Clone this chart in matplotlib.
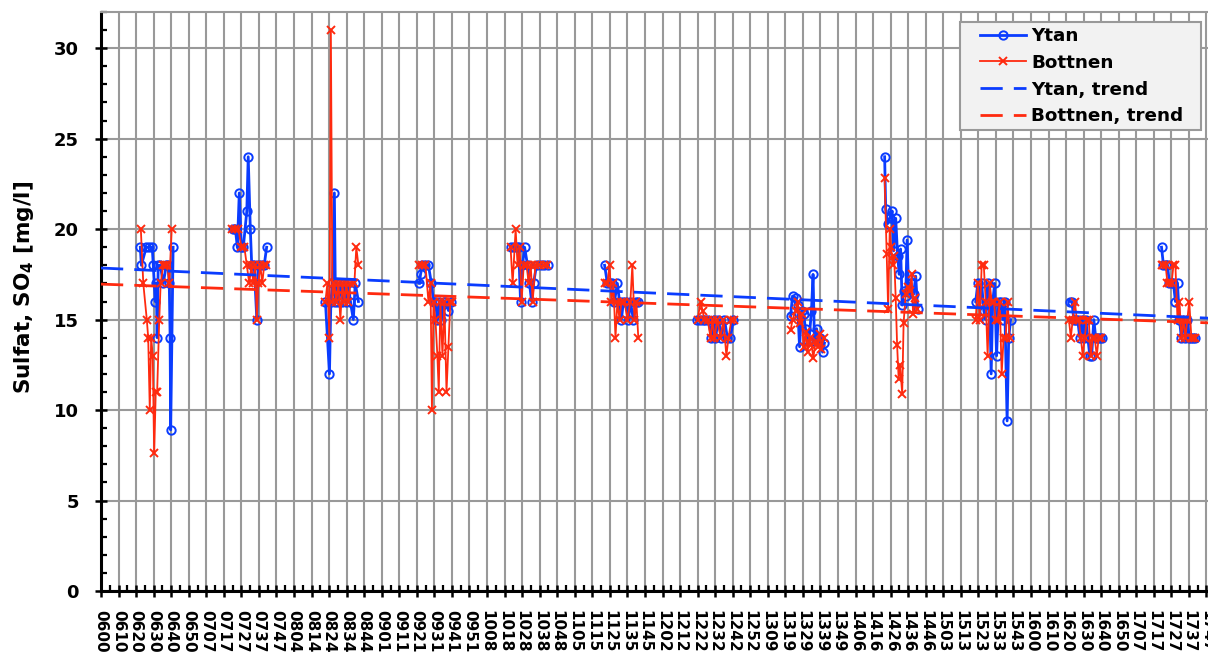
import numpy as np
import matplotlib
matplotlib.use("Agg")
import matplotlib.pyplot as plt
from matplotlib.patches import Rectangle
from matplotlib.ticker import MultipleLocator

# week labels along the x axis (one every 10 weeks)
week_labels = ["0600", "0610", "0620", "0630", "0640", "0650", "0707", "0717", "0727", "0737", "0747",
               "0804", "0814", "0824", "0834", "0844", "0901", "0911", "0921", "0931", "0941", "0951",
               "1008", "1018", "1028", "1038", "1048", "1105", "1115", "1125", "1135", "1145",
               "1202", "1212", "1222", "1232", "1242", "1252", "1309", "1319", "1329", "1339", "1349",
               "1406", "1416", "1426", "1436", "1446", "1503", "1513", "1523", "1533", "1543",
               "1600", "1610", "1620", "1630", "1640", "1650", "1707", "1717", "1727", "1737", "1747"]

# sampling campaigns, x in weeks counted from 0600
ytan_week = [
    [22.4, 23.0, 25.8, 27.5, 29.2, 29.8, 30.9, 31.5, 32.0, 32.6, 33.8, 35.5, 37.2, 38.3, 38.9, 39.4, 39.7, 41.1],
    [75.4, 76.6, 77.7, 78.8, 80.0, 81.1, 83.1, 83.9, 85.1, 85.9, 87.3, 88.8, 89.6, 91.3, 93.0, 94.4],
    [127.9, 130.2, 131.0, 131.9, 133.0, 133.6, 134.1, 135.3, 136.4, 137.6, 138.7, 139.8, 141.0, 142.1, 143.8, 144.9, 146.7],
    [181.5, 182.1, 183.2, 184.9, 186.6, 188.3, 189.5, 190.6, 191.7, 192.9, 194.0, 195.2, 196.3, 198.0, 199.7],
    [233.4, 235.1, 236.8, 238.0, 239.1, 240.2, 241.4, 243.1, 244.2, 245.4, 246.5, 248.2, 250.5, 252.7, 255.0],
    [287.0, 288.6, 289.8, 291.5, 292.6, 294.3, 295.5, 296.6, 297.7, 299.4, 300.6, 301.7, 303.4, 305.1, 306.2],
    [339.4, 341.1, 342.8, 344.5, 346.2, 347.9, 349.1, 350.2, 351.9, 353.6, 355.3, 357.0, 358.7, 360.4],
    [393.0, 394.1, 395.9, 397.0, 398.1, 399.3, 400.4, 401.5, 402.7, 403.8, 404.9, 405.8, 406.6, 407.8, 408.9, 410.0, 411.2, 412.3],
    [446.6, 447.2, 448.3, 449.5, 450.9, 451.7, 452.9, 454.0, 454.9, 455.7, 456.6, 457.4, 458.6, 459.4, 460.3, 461.4, 463.1, 464.3, 465.4],
    [498.5, 499.7, 500.8, 501.9, 503.1, 504.2, 505.3, 506.5, 507.3, 508.2, 509.3, 510.4, 511.6, 512.7, 513.9, 515.0, 516.4, 517.3, 518.4],
    [552.1, 553.3, 554.4, 555.5, 556.6, 557.8, 559.0, 560.1, 561.2, 562.4, 563.5, 564.6, 565.8, 566.9, 568.0, 569.2, 570.3],
    [604.4, 605.5, 606.7, 607.8, 608.9, 610.1, 611.2, 612.3, 613.5, 614.6, 615.7, 616.9, 618.0, 619.1, 620.2, 621.4, 622.5, 623.6],
]
ytan_so4 = [
    [19, 18, 19, 19, 19, 18, 16, 17, 14, 18, 18, 17, 18, 18, 17, 14, 8.9, 19],
    [20, 20, 19, 22, 19, 19, 21, 24, 20, 18, 18, 15, 18, 18, 18, 19],
    [16, 12, 16, 17, 22, 16, 17, 16, 17, 16, 17, 16, 17, 16, 15, 17, 16],
    [17, 17.5, 18, 18, 18, 17, 16, 16, 15, 16, 15, 16, 16, 15.5, 16],
    [19, 19, 19, 19, 16, 18, 19, 18, 17, 16, 17, 18, 18, 18, 18],
    [18, 17, 17, 17, 16, 17, 16, 15, 16, 16, 15, 16, 15, 16, 16],
    [15, 15, 15, 15, 15, 14, 15, 14, 15, 14, 15, 14, 14, 15],
    [15.2, 16.3, 16.2, 15.8, 13.5, 15.5, 15.3, 14.5, 13.8, 14.2, 15.5, 17.5, 13.8, 14.5, 13.8, 14.0, 13.2, 13.7],
    [24.0, 21.1, 20.3, 20.6, 21.0, 18.8, 20.6, 18.5, 17.5, 18.9, 15.8, 16.6, 16.3, 19.4, 16.5, 17.0, 16.4, 17.4, 15.6],
    [16, 17, 16, 17, 15.5, 15, 17, 16, 12, 16, 17, 13, 16, 16, 15, 16, 9.4, 14, 15],
    [16, 16, 15, 15, 15, 14, 15, 14, 15, 14, 13, 13, 15, 14, 14, 14, 14],
    [19, 18, 18, 18, 17, 17, 17, 16, 17, 15, 14, 15, 14, 15, 14, 14, 14, 14],
]

bott_week = [
    [22.7, 24.1, 26.1, 26.9, 27.8, 28.6, 29.5, 30.3, 31.2, 32.0, 33.2, 34.0, 35.5, 36.6, 37.7, 38.9, 40.3],
    [74.9, 76.6, 78.3, 80.0, 81.7, 83.1, 84.5, 85.7, 86.8, 87.9, 88.8, 89.6, 90.8, 91.9, 93.0, 94.2],
    [127.9, 129.0, 130.2, 131.0, 131.9, 133.0, 134.1, 135.3, 136.4, 137.6, 138.7, 139.8, 141.0, 142.1, 144.4, 145.5, 146.7],
    [181.5, 183.2, 184.9, 186.6, 187.8, 188.6, 189.5, 190.6, 191.7, 192.5, 193.4, 194.6, 195.7, 196.9, 198.0, 199.1, 200.3],
    [233.4, 234.6, 236.3, 237.4, 238.6, 239.7, 240.9, 242.6, 243.7, 244.9, 246.0, 247.6, 249.9, 252.2, 254.4],
    [287.0, 288.6, 289.8, 290.9, 292.0, 293.2, 294.3, 295.5, 296.6, 298.3, 300.0, 301.7, 302.8, 304.0, 305.1, 306.2],
    [340.0, 341.7, 342.8, 343.9, 345.7, 347.4, 348.5, 349.6, 351.3, 353.0, 354.7, 356.4, 357.6, 359.3, 361.0],
    [393.0, 394.1, 395.9, 397.0, 398.1, 399.3, 400.4, 401.5, 402.7, 403.8, 404.9, 406.0, 407.2, 408.4, 409.5, 410.6, 411.8],
    [446.6, 447.8, 448.6, 449.5, 450.3, 451.2, 452.0, 452.9, 453.7, 454.6, 455.4, 456.6, 457.4, 458.6, 459.7, 460.8, 462.0, 462.8, 463.9, 465.1],
    [498.5, 499.7, 500.8, 501.9, 503.1, 504.2, 505.3, 506.5, 507.6, 508.8, 509.9, 511.0, 512.2, 513.3, 514.4, 515.6, 516.7, 517.8],
    [551.6, 552.7, 553.8, 555.0, 556.1, 557.2, 558.4, 559.5, 560.6, 561.8, 562.9, 564.1, 565.2, 566.3, 567.5, 568.6, 569.7],
    [604.4, 605.5, 606.7, 607.8, 608.9, 610.1, 611.2, 612.3, 613.5, 614.6, 615.7, 616.9, 618.0, 619.1, 620.2, 621.4, 622.5, 623.6],
]
bott_so4 = [
    [20, 17, 15, 14, 10, 14, 13, 7.6, 11, 11, 15, 17, 18, 18, 18, 17, 20],
    [20, 20, 20, 19, 19, 18, 17, 18, 17, 18, 15, 17, 18, 17, 18, 18],
    [16, 17, 14, 31, 16, 17, 16, 17, 15, 17, 16, 17, 16, 17, 17, 19, 18],
    [18, 18, 18, 16, 17, 10, 16, 15, 13, 11, 16, 13, 16, 11, 13.5, 16, 16],
    [19, 17, 20, 18, 19, 16, 18, 18, 17, 18, 16, 18, 18, 18, 18],
    [17, 17, 18, 16, 17, 14, 16, 15, 16, 16, 15, 16, 18, 15, 16, 14],
    [15, 16, 15.5, 15, 15, 14, 15, 14, 15, 14, 15, 13, 14, 15, 15],
    [14.4, 15.0, 15.5, 16.0, 14.8, 15.3, 13.5, 14.3, 13.2, 14.0, 13.6, 12.9, 13.8, 13.5, 14.2, 13.4, 14.0],
    [22.8, 18.6, 15.6, 20.0, 19.0, 18.0, 18.5, 16.2, 13.6, 11.7, 12.5, 10.9, 14.8, 16.4, 16.8, 16.6, 17.5, 15.3, 16.2, 15.6],
    [15, 17, 15, 18, 18, 16, 13, 17, 16, 16, 15, 15, 16, 12, 14, 14, 16, 14],
    [15, 14, 15, 16, 15, 15, 14, 13, 14, 15, 15, 13, 14, 14, 13, 14, 14],
    [18, 18, 18, 17, 17, 17, 18, 18, 15, 16, 14, 15, 14, 15, 16, 14, 14, 14],
]

# linear trends (value at start and end of the axis)
trend_week = [0, 640]
ytan_trend = [17.85, 15.04]
bott_trend = [16.96, 14.79]

BLUE = "#0a3cff"
RED = "#ff2a0f"


def join(groups):
    out = []
    for g in groups:
        out.extend(g)
        out.append(np.nan)
    return np.array(out[:-1], dtype=float)


def main():
    fig = plt.figure(figsize=(12.08, 6.57), dpi=100)
    ax = fig.add_axes([101 / 1208, 66 / 657, 1123 / 1208, 579 / 657])

    ax.plot(join(ytan_week), join(ytan_so4), color=BLUE, lw=2.0, marker="o",
            ms=6, mfc="none", mec=BLUE, mew=1.4, label="Ytan", zorder=3)
    ax.plot(join(bott_week), join(bott_so4), color=RED, lw=1.3, marker="x",
            ms=6, mec=RED, mew=1.4, label="Bottnen", zorder=4)
    ax.plot(trend_week, ytan_trend, color=BLUE, lw=2.0, dashes=(8, 4),
            label="Ytan, trend", zorder=5)
    ax.plot(trend_week, bott_trend, color=RED, lw=2.0, dashes=(8, 4),
            label="Bottnen, trend", zorder=5)

    ax.set_xlim(0, 640)
    ax.set_ylim(0, 32)
    ax.set_xticks(np.arange(len(week_labels)) * 10)
    ax.set_xticklabels(week_labels, rotation=-90, fontsize=11, fontweight="bold")
    ax.xaxis.set_minor_locator(MultipleLocator(5))
    ax.yaxis.set_major_locator(MultipleLocator(5))
    ax.yaxis.set_minor_locator(MultipleLocator(1))
    for lab in ax.get_yticklabels():
        lab.set_fontweight("bold")
        lab.set_fontsize(13)

    ax.tick_params(which="major", direction="inout", length=8, width=1.8, colors="black")
    ax.tick_params(axis="y", which="major", pad=12)
    ax.tick_params(axis="x", which="major", pad=10)
    ax.tick_params(which="minor", direction="in", length=4, width=1.6)

    ax.grid(True, which="major", color="#999999", lw=1.5, zorder=0)
    ax.set_axisbelow(True)
    for side in ("left", "bottom"):
        ax.spines[side].set_color("black")
        ax.spines[side].set_linewidth(2.2)
    ax.spines["top"].set_color("#999999")
    ax.spines["top"].set_linewidth(1.5)
    ax.spines["right"].set_visible(False)

    ax.set_ylabel(r"Sulfat, SO$_\mathbf{4}$ [mg/l]", fontsize=15.5, fontweight="bold")
    ax.yaxis.set_label_coords(-0.058, 0.525)

    # legend box drawn separately so the padding can match
    fig.add_artist(Rectangle((960 / 1208, 1 - 130 / 657), 241 / 1208, 108 / 657,
                             transform=fig.transFigure, fc="#f2f2f2", ec="#999999",
                             lw=1.5, zorder=4))
    handles, labels = ax.get_legend_handles_labels()
    leg = fig.legend(handles, labels, loc="upper left",
                     bbox_to_anchor=(980 / 1208, 1 - 27 / 657), borderaxespad=0,
                     borderpad=0, frameon=False, prop={"weight": "bold", "size": 13.2},
                     handlelength=2.5, handletextpad=0.3, labelspacing=0.48)
    leg.set_zorder(5)

    fig.savefig("out.png", dpi=100)


if __name__ == "__main__":
    main()
